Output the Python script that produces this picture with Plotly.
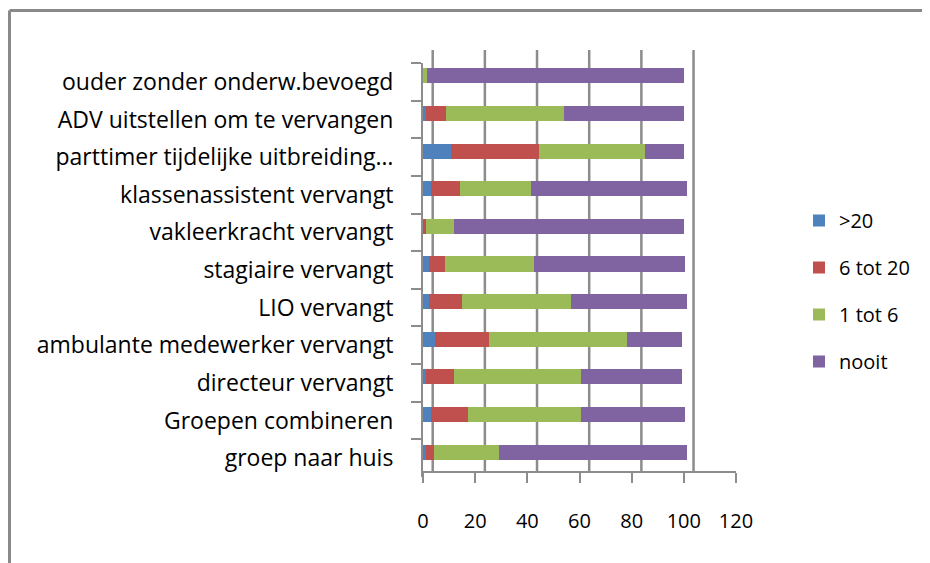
import plotly.graph_objects as go

categories = [
    "ouder zonder onderw.bevoegd",
    "ADV uitstellen om te vervangen",
    "parttimer tijdelijke uitbreiding…",
    "klassenassistent vervangt",
    "vakleerkracht vervangt",
    "stagiaire vervangt",
    "LIO vervangt",
    "ambulante medewerker vervangt",
    "directeur vervangt",
    "Groepen combineren",
    "groep naar huis",
]
series_names = [">20", "6 tot 20", "1 tot 6", "nooit"]
gt20 = [0, 1, 10.9, 3.2, 0, 2.3, 2.3, 4.5, 1, 3.2, 1]
t6_20 = [0, 7.7, 33.6, 10.9, 1.3, 6, 12.8, 20.8, 10.9, 14, 3.4]
t1_6 = [1.4, 45.3, 40.6, 27.2, 10.6, 34.1, 41.5, 53, 48.5, 43.2, 24.6]
nooit = [98.6, 45.9, 14.9, 59.9, 88, 57.9, 44.6, 21, 38.8, 39.9, 72.1]
x_ticks = [0, 20, 40, 60, 80, 100, 120]

colors = ["#4F81BD", "#C0504D", "#9BBB59", "#8064A2"]
FONT = "Open Sans"

# the page places the figure 8px from the top-left corner of the window
W, H = 922, 555
ML, MT, MB = 415, 49, 86
PW = 313
MR = W - ML - PW
PH = H - MT - MB
XMAX = 120
NCAT = len(categories)
front_shift = 6 / PH  # front (label) axis sits a little lower than the bars
back_dx = 9.7          # back wall gridlines are shifted right (px)

fig = go.Figure()
for name, vals, col in zip(series_names, [gt20, t6_20, t1_6, nooit], colors):
    fig.add_trace(go.Bar(
        y=categories, x=vals, name=name, orientation="h",
        marker=dict(color=col, line=dict(width=0)),
        legendgroup=name,
    ))

# invisible helper trace so the front category axis is drawn
fig.add_trace(go.Scatter(
    x=[0] * NCAT, y=categories, yaxis="y2", mode="markers",
    marker=dict(opacity=0), showlegend=False, hoverinfo="skip",
))

grid_color = "#8c8c8c"
axis_font = dict(family=FONT, size=20, color="black")
cat_range = [NCAT - 0.5, -0.5]
fig.update_layout(
    width=W, height=H,
    margin=dict(l=ML, r=MR, t=MT, b=MB, pad=0),
    paper_bgcolor="white", plot_bgcolor="rgba(0,0,0,0)",
    barmode="stack", bargap=0.6,
    font=dict(family=FONT, size=20, color="black"),
    xaxis=dict(
        range=[0, XMAX], tickvals=x_ticks, showgrid=False, zeroline=False,
        showline=True, linecolor=grid_color, linewidth=2,
        ticks="outside", ticklen=10, tickwidth=2, tickcolor=grid_color,
        ticklabelstandoff=21, tickfont=axis_font, anchor="y",
    ),
    yaxis=dict(
        domain=[front_shift, 1], type="category",
        categoryorder="array", categoryarray=categories, range=cat_range,
        showgrid=False, zeroline=False, showline=False,
        showticklabels=False, ticks="",
    ),
    yaxis2=dict(
        domain=[0, 1 - front_shift], anchor="x", type="category",
        categoryorder="array", categoryarray=categories, range=cat_range,
        showgrid=False, zeroline=False,
        showline=True, linecolor=grid_color, linewidth=2,
        ticks="outside", ticklen=10, tickwidth=2, tickcolor=grid_color,
        tickson="boundaries", ticklabelstandoff=23,
        tickfont=dict(family=FONT, size=23, color="black"),
    ),
    legend=dict(
        x=(791 - ML) / PW, xanchor="left",
        y=(MT + PH - 193) / PH, yanchor="top",
        traceorder="grouped", tracegroupgap=18,
        font=dict(family=FONT, size=20, color="black"),
        bgcolor="rgba(0,0,0,0)",
    ),
    showlegend=True,
)

# back-wall gridlines, offset a few pixels from the tick values
for t in x_ticks[:-1]:
    fig.add_shape(
        type="line", layer="below",
        xref="x", xsizemode="pixel", xanchor=t, x0=back_dx, x1=back_dx,
        yref="paper", ysizemode="pixel", yanchor=front_shift,
        y0=0, y1=PH * (1 - front_shift) + 7,
        line=dict(color=grid_color, width=2.5),
    )

# outer chart frame (top and left edges)
frame_left = (1.5 - ML) / PW
frame_top = (MT + PH - 2.5) / PH
fig.add_shape(type="line", xref="paper", yref="paper",
              x0=frame_left, x1=(W - ML) / PW + 0.05, y0=frame_top, y1=frame_top,
              line=dict(color="#898989", width=3))
fig.add_shape(type="line", xref="paper", yref="paper",
              x0=frame_left, x1=frame_left, y0=frame_top, y1=-(MB + 5) / PH,
              line=dict(color="#898989", width=3))

fig.write_html("out.html")
